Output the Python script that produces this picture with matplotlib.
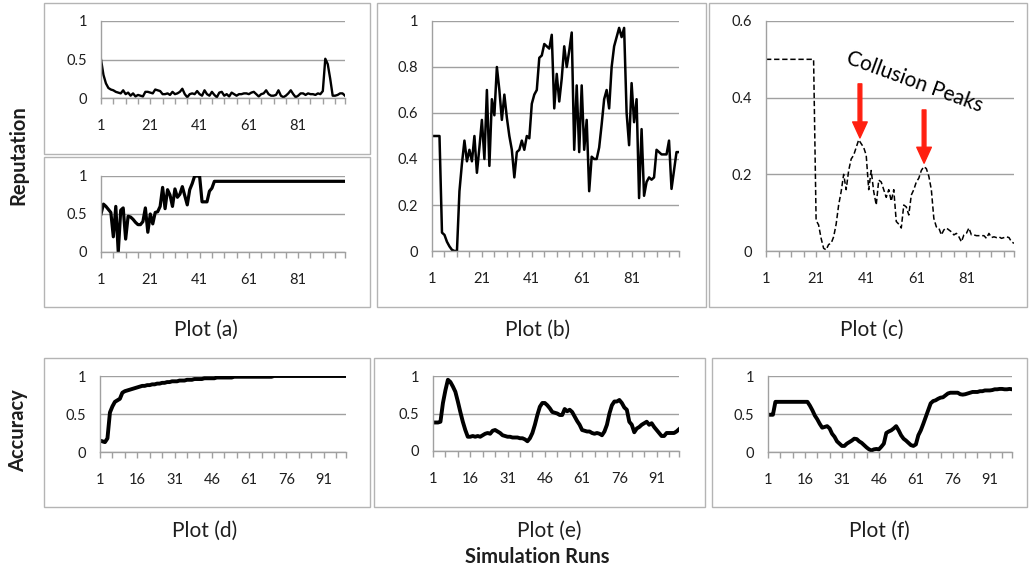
import matplotlib
matplotlib.use('Agg')
import matplotlib.pyplot as plt
from matplotlib.patches import Rectangle

plt.rcParams['font.family'] = ['Lato', 'DejaVu Sans']

# ---- data ----
runs = list(range(1, 101))

# Plot (a), upper: reputation
rep_a_top = [
    0.50, 0.30, 0.19, 0.13, 0.11, 0.10, 0.08, 0.07, 0.06, 0.10,
    0.05, 0.07, 0.03, 0.06, 0.02, 0.04, 0.03, 0.02, 0.08, 0.08,
    0.07, 0.06, 0.11, 0.10, 0.09, 0.05, 0.05, 0.06, 0.04, 0.08,
    0.05, 0.06, 0.08, 0.12, 0.05, 0.01, 0.05, 0.06, 0.05, 0.09,
    0.05, 0.03, 0.10, 0.05, 0.03, 0.08, 0.04, 0.01, 0.07, 0.08,
    0.03, 0.05, 0.02, 0.07, 0.05, 0.03, 0.05, 0.05, 0.06, 0.06,
    0.05, 0.07, 0.08, 0.05, 0.02, 0.05, 0.06, 0.10, 0.05, 0.03,
    0.03, 0.04, 0.10, 0.03, 0.01, 0.03, 0.06, 0.10, 0.05, 0.01,
    0.03, 0.06, 0.06, 0.04, 0.06, 0.05, 0.05, 0.04, 0.06, 0.05,
    0.09, 0.51, 0.44, 0.25, 0.03, 0.03, 0.04, 0.06, 0.06, 0.03,
]

# Plot (a), lower: reputation
rep_a_bot = [
    0.50, 0.63, 0.60, 0.56, 0.52, 0.20, 0.60, 0.00, 0.55, 0.58,
    0.17, 0.47, 0.46, 0.43, 0.39, 0.36, 0.36, 0.40, 0.58, 0.26,
    0.50, 0.37, 0.52, 0.53, 0.60, 0.85, 0.57, 0.82, 0.75, 0.60,
    0.83, 0.72, 0.76, 0.86, 0.74, 0.62, 0.82, 0.90, 1.00, 1.00,
    1.00, 0.66, 0.66, 0.66, 0.80, 0.84, 0.93, 0.93, 0.93, 0.93,
    0.93, 0.93, 0.93, 0.93, 0.93, 0.93, 0.93, 0.93, 0.93, 0.93,
    0.93, 0.93, 0.93, 0.93, 0.93, 0.93, 0.93, 0.93, 0.93, 0.93,
    0.93, 0.93, 0.93, 0.93, 0.93, 0.93, 0.93, 0.93, 0.93, 0.93,
    0.93, 0.93, 0.93, 0.93, 0.93, 0.93, 0.93, 0.93, 0.93, 0.93,
    0.93, 0.93, 0.93, 0.93, 0.93, 0.93, 0.93, 0.93, 0.93, 0.93,
]

# Plot (b): reputation
rep_b = [
    0.50, 0.50, 0.50, 0.50, 0.08, 0.07, 0.04, 0.02, 0.005, 0.00,
    0.00, 0.26, 0.38, 0.48, 0.39, 0.44, 0.39, 0.50, 0.34, 0.45,
    0.57, 0.40, 0.70, 0.37, 0.66, 0.59, 0.80, 0.70, 0.57, 0.68,
    0.58, 0.50, 0.44, 0.32, 0.43, 0.44, 0.48, 0.44, 0.50, 0.49,
    0.64, 0.68, 0.70, 0.84, 0.85, 0.90, 0.89, 0.88, 0.94, 0.62,
    0.77, 0.65, 0.75, 0.89, 0.80, 0.87, 0.95, 0.44, 0.72, 0.43,
    0.72, 0.44, 0.57, 0.26, 0.41, 0.40, 0.40, 0.45, 0.55, 0.66,
    0.70, 0.62, 0.80, 0.89, 0.93, 0.97, 0.93, 0.97, 0.60, 0.46,
    0.73, 0.56, 0.66, 0.23, 0.53, 0.24, 0.30, 0.32, 0.31, 0.32,
    0.44, 0.43, 0.42, 0.42, 0.42, 0.48, 0.27, 0.35, 0.43, 0.43,
]

# Plot (c): reputation (dashed)
rep_c = [
    0.50, 0.50, 0.50, 0.50, 0.50, 0.50, 0.50, 0.50, 0.50, 0.50,
    0.50, 0.50, 0.50, 0.50, 0.50, 0.50, 0.50, 0.50, 0.50, 0.50,
    0.080, 0.068, 0.033, 0.007, 0.003, 0.017, 0.020, 0.037, 0.070, 0.120,
    0.155, 0.200, 0.160, 0.210, 0.240, 0.250, 0.270, 0.290, 0.280, 0.270,
    0.250, 0.160, 0.210, 0.155, 0.120, 0.185, 0.180, 0.160, 0.140, 0.160,
    0.130, 0.160, 0.077, 0.070, 0.060, 0.120, 0.115, 0.094, 0.146, 0.160,
    0.180, 0.190, 0.210, 0.220, 0.215, 0.195, 0.160, 0.085, 0.063, 0.060,
    0.042, 0.055, 0.060, 0.055, 0.050, 0.042, 0.046, 0.037, 0.024, 0.042,
    0.046, 0.060, 0.042, 0.042, 0.040, 0.040, 0.040, 0.040, 0.033, 0.046,
    0.035, 0.037, 0.035, 0.037, 0.033, 0.035, 0.037, 0.035, 0.024, 0.020,
]

# Plot (d): accuracy
acc_d = [
    0.15, 0.14, 0.13, 0.18, 0.52, 0.60, 0.66, 0.68, 0.70, 0.78,
    0.80, 0.81, 0.82, 0.83, 0.84, 0.85, 0.86, 0.87, 0.87, 0.88,
    0.88, 0.89, 0.89, 0.90, 0.90, 0.91, 0.91, 0.92, 0.92, 0.93,
    0.93, 0.93, 0.94, 0.94, 0.94, 0.95, 0.95, 0.95, 0.96, 0.96,
    0.96, 0.96, 0.97, 0.97, 0.97, 0.97, 0.97, 0.98, 0.98, 0.98,
    0.98, 0.98, 0.98, 0.98, 0.99, 0.99, 0.99, 0.99, 0.99, 0.99,
    0.99, 0.99, 0.99, 0.99, 0.99, 0.99, 0.99, 0.99, 0.99, 0.99,
    1.00, 1.00, 1.00, 1.00, 1.00, 1.00, 1.00, 1.00, 1.00, 1.00,
    1.00, 1.00, 1.00, 1.00, 1.00, 1.00, 1.00, 1.00, 1.00, 1.00,
    1.00, 1.00, 1.00, 1.00, 1.00, 1.00, 1.00, 1.00, 1.00, 1.00,
]

# Plot (e): accuracy
acc_e = [
    0.38, 0.38, 0.38, 0.39, 0.64, 0.81, 0.95, 0.92, 0.86, 0.79,
    0.66, 0.52, 0.39, 0.28, 0.19, 0.19, 0.20, 0.19, 0.20, 0.19,
    0.21, 0.23, 0.24, 0.23, 0.27, 0.28, 0.26, 0.24, 0.21, 0.20,
    0.19, 0.19, 0.18, 0.18, 0.18, 0.17, 0.17, 0.155, 0.13, 0.17,
    0.24, 0.35, 0.48, 0.59, 0.64, 0.64, 0.61, 0.57, 0.52, 0.51,
    0.50, 0.48, 0.48, 0.56, 0.53, 0.55, 0.52, 0.46, 0.40, 0.35,
    0.28, 0.27, 0.26, 0.26, 0.24, 0.23, 0.24, 0.23, 0.21, 0.26,
    0.35, 0.50, 0.61, 0.66, 0.66, 0.68, 0.64, 0.58, 0.55, 0.39,
    0.35, 0.25, 0.30, 0.32, 0.35, 0.37, 0.39, 0.35, 0.37, 0.32,
    0.28, 0.24, 0.20, 0.20, 0.24, 0.24, 0.24, 0.24, 0.26, 0.29,
]

# Plot (f): accuracy
acc_f = [
    0.49, 0.49, 0.49, 0.66, 0.66, 0.66, 0.66, 0.66, 0.66, 0.66,
    0.66, 0.66, 0.66, 0.66, 0.66, 0.66, 0.66, 0.61, 0.55, 0.48,
    0.43, 0.37, 0.32, 0.33, 0.34, 0.31, 0.24, 0.20, 0.14, 0.11,
    0.08, 0.08, 0.11, 0.13, 0.15, 0.175, 0.17, 0.14, 0.12, 0.09,
    0.06, 0.035, 0.02, 0.035, 0.04, 0.035, 0.07, 0.11, 0.25, 0.27,
    0.285, 0.31, 0.34, 0.285, 0.22, 0.175, 0.15, 0.12, 0.09, 0.08,
    0.10, 0.22, 0.285, 0.37, 0.46, 0.55, 0.64, 0.67, 0.68, 0.70,
    0.715, 0.72, 0.745, 0.77, 0.78, 0.78, 0.78, 0.78, 0.76, 0.755,
    0.76, 0.77, 0.78, 0.79, 0.79, 0.79, 0.80, 0.80, 0.81, 0.81,
    0.81, 0.815, 0.825, 0.825, 0.83, 0.83, 0.825, 0.825, 0.83, 0.825,
]

labels_20 = [1, 21, 41, 61, 81]
labels_15 = [1, 16, 31, 46, 61, 76, 91]
tick_marks = [1, 6, 11, 16, 21, 26, 31, 36, 41, 46, 51, 56, 61, 66, 71, 76, 81, 86, 91, 96, 100]

W, H = 1029, 574
AXIS_GRAY = '#a0a0a0'
BOX_GRAY = '#b4b4b4'
TXT = '#1e1e1e'

fig = plt.figure(figsize=(W / 100, H / 100), dpi=100)
fig.patch.set_facecolor('white')


def px_axes(x0, y0, x1, y1):
    return fig.add_axes([x0 / W, 1 - y1 / H, (x1 - x0) / W, (y1 - y0) / H])


def px_box(x0, y0, x1, y1):
    fig.add_artist(Rectangle((x0 / W, 1 - y1 / H), (x1 - x0) / W, (y1 - y0) / H,
                             transform=fig.transFigure, fill=False,
                             edgecolor=BOX_GRAY, linewidth=1.0))


def style_axes(ax, yticks, ylabels, xlabels):
    ax.set_xlim(1, 100)
    ax.set_ylim(yticks[0], yticks[-1])
    for s in ['top', 'right']:
        ax.spines[s].set_visible(False)
    for s in ['left', 'bottom']:
        ax.spines[s].set_color(AXIS_GRAY)
        ax.spines[s].set_linewidth(1.0)
    ax.set_yticks(yticks)
    ax.set_yticklabels(ylabels)
    ax.yaxis.grid(True, color=AXIS_GRAY, linewidth=1.0)
    ax.set_axisbelow(True)
    ax.tick_params(axis='y', length=0, pad=10, labelsize=10.5, labelcolor=TXT)
    ax.set_xticks(xlabels)
    ax.set_xticklabels([str(v) for v in xlabels])
    ax.set_xticks([t for t in tick_marks if t not in xlabels], minor=True)
    ax.tick_params(axis='x', which='both', direction='out', length=4,
                   color=AXIS_GRAY, width=1.0)
    ax.tick_params(axis='x', which='major', pad=11, labelsize=10.5, labelcolor=TXT)


# chart borders
px_box(44, 3, 370, 154)
px_box(44, 157, 370, 307)
px_box(377, 3, 706, 307)
px_box(709, 3, 1027, 307)
px_box(44, 358, 370, 507)
px_box(374, 358, 705, 507)
px_box(712, 358, 1027, 507)

# Plot (a) upper
ax = px_axes(101, 21, 345, 98)
ax.plot(runs, rep_a_top, color='black', linewidth=1.7, solid_joinstyle='round')
style_axes(ax, [0, 0.5, 1], ['0', '0.5', '1'], labels_20)

# Plot (a) lower
ax = px_axes(101, 176, 345, 252)
ax.plot(runs, rep_a_bot, color='black', linewidth=2.3, solid_joinstyle='round')
style_axes(ax, [0, 0.5, 1], ['0', '0.5', '1'], labels_20)

# Plot (b)
ax = px_axes(432, 21, 679, 251)
ax.plot(runs, rep_b, color='black', linewidth=1.8, solid_joinstyle='round')
style_axes(ax, [0, 0.2, 0.4, 0.6, 0.8, 1.0],
           ['0', '0.2', '0.4', '0.6', '0.8', '1'], labels_20)

# Plot (c)
ax_c = px_axes(766, 21, 1014, 251)
ax_c.plot(runs, rep_c, color='black', linewidth=1.1, linestyle=(0, (3.5, 1.8)))
style_axes(ax_c, [0, 0.2, 0.4, 0.6], ['0', '0.2', '0.4', '0.6'], labels_20)
ax_c.text(60.5, 0.441, 'Collusion Peaks', rotation=-20, ha='center', va='center',
          rotation_mode='anchor', fontsize=15, color='black')
arrow = dict(arrowstyle='simple,head_length=1.15,head_width=1.05,tail_width=0.27',
             color='#ff2010', shrinkA=0, shrinkB=0, mutation_scale=10)
ax_c.annotate('', xy=(38.5, 0.295), xytext=(38.5, 0.436), arrowprops=arrow)
ax_c.annotate('', xy=(64.1, 0.229), xytext=(64.1, 0.368), arrowprops=arrow)

# Plot (d)
ax = px_axes(100, 376, 346, 452)
ax.plot(runs, acc_d, color='black', linewidth=2.8, solid_joinstyle='round')
style_axes(ax, [0, 0.5, 1], ['0', '0.5', '1'], labels_15)

# Plot (e)
ax = px_axes(433, 376, 679, 451)
ax.plot(runs, acc_e, color='black', linewidth=2.8, solid_joinstyle='round')
style_axes(ax, [0, 0.5, 1], ['0', '0.5', '1'], labels_15)

# Plot (f)
ax = px_axes(768, 376, 1012, 452)
ax.plot(runs, acc_f, color='black', linewidth=2.8, solid_joinstyle='round')
style_axes(ax, [0, 0.5, 1], ['0', '0.5', '1'], labels_15)

# captions
for label, (cx, cy) in [('Plot (a)', (206, 330)), ('Plot (b)', (538, 330)),
                        ('Plot (c)', (872, 330)), ('Plot (d)', (205, 531)),
                        ('Plot (e)', (549, 531)), ('Plot (f)', (879, 531))]:
    fig.text(cx / W, 1 - cy / H, label, ha='center', va='center',
             fontsize=15, color=TXT)

fig.text(18 / W, 1 - 155 / H, 'Reputation', rotation=90, ha='center', va='center',
         fontsize=14.5, fontweight='bold', color=TXT)
fig.text(18 / W, 1 - 431 / H, 'Accuracy', rotation=90, ha='center', va='center',
         fontsize=14.5, fontweight='bold', color=TXT)
fig.text(537 / W, 1 - 557 / H, 'Simulation Runs', ha='center', va='center',
         fontsize=14.5, fontweight='bold', color=TXT)

fig.savefig('out.png', dpi=100, facecolor='white')
